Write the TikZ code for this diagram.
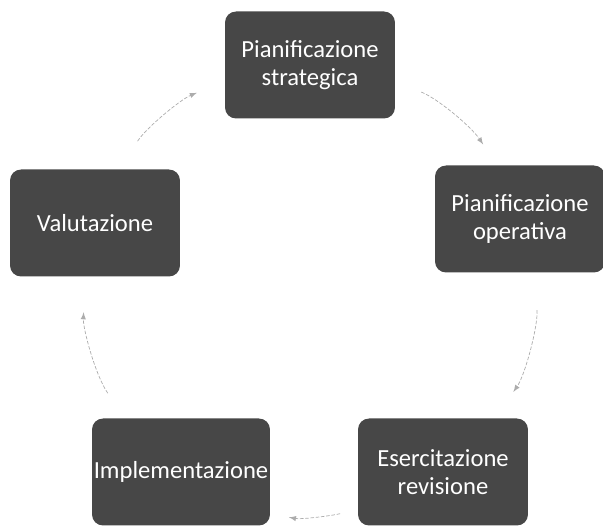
\documentclass[tikz,border=0pt]{standalone}
\usepackage{fontspec}
\setmainfont{Carlito}
\usetikzlibrary{arrows}
\begin{document}
\begin{tikzpicture}[x=0.02cm,y=0.02cm,
    stagebox/.style={fill=black!72, rounded corners=0.22cm, text=white, align=center,
      minimum width=3.4cm, minimum height=2.14cm, inner sep=1pt, font=\fontsize{14}{16}\selectfont},
    cyclearrow/.style={draw=gray!65, thin, dash pattern=on 2pt off 1pt, -latex, looseness=0.9}]
    \useasboundingbox (0,0) rectangle (603,526);
    \node [stagebox] (strategica)      at (310,461) {Pianificazione\\strategica};
    \node [stagebox] (operativa)       at (520,307) {Pianificazione\\operativa};
    \node [stagebox] (esercitazione)   at (443,54)  {Esercitazione\\revisione};
    \node [stagebox] (implementazione) at (181,54)  {Implementazione};
    \node [stagebox] (valutazione)     at (95,303)  {Valutazione};
    \draw [cyclearrow, shorten <=0.56cm, shorten >=0.5cm] (strategica.-11) to[out=-22, in=124] (operativa.113);% top -> right
    \draw [cyclearrow, shorten <=0.75cm, shorten >=0.64cm] (operativa.-75) to[out=-86, in=55] (esercitazione.46);% right -> bottom
    \draw [cyclearrow, shorten <=0.36cm, shorten >=0.38cm] (esercitazione.204) to[out=192, in=-11] (implementazione.-25);% bottom
    \draw [cyclearrow, shorten <=0.61cm, shorten >=0.71cm] (implementazione.136) to[out=125, in=-93] (valutazione.-100);% bottom -> left
    \draw [cyclearrow, shorten <=0.66cm, shorten >=0.6cm] (valutazione.65) to[out=58, in=202] (strategica.191);% left -> top
\end{tikzpicture}
\end{document}
